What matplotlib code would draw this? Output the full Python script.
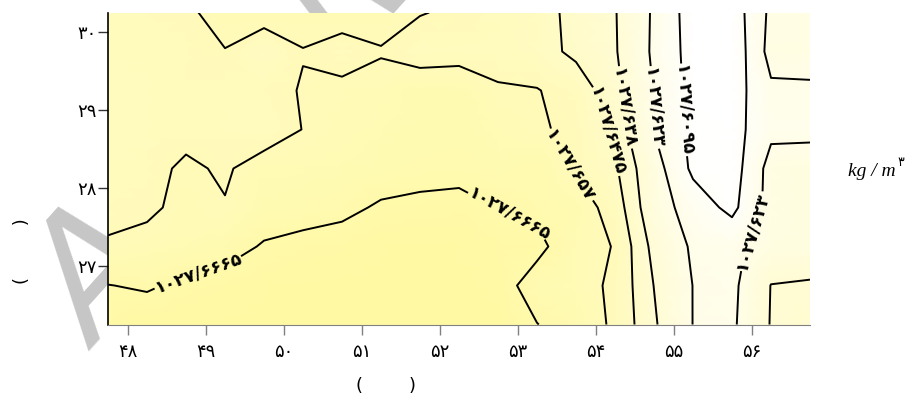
import numpy as np
import matplotlib
matplotlib.use('Agg')
import matplotlib.pyplot as plt
from matplotlib.colors import LinearSegmentedColormap

# grid nodes (degrees)
lon = [47.75, 48.25, 48.75, 49.25, 49.75, 50.25, 50.75, 51.25, 51.75, 52.25,
       52.75, 53.25, 53.75, 54.25, 54.75, 55.25, 55.75, 56.25, 56.75]
lat = [30.25, 29.75, 29.25, 28.75, 28.25, 27.75, 27.25, 26.75, 26.25]

# density above 1027.6 kg/m3 in units of 1e-4, rows north -> south
dens_1e4 = [
    [545, 548, 555, 602, 610, 600, 605, 600, 574, 557, 540, 520, 442, 387, 212, 32, 18, 259, 265],
    [540, 543, 550, 567, 510, 567, 539, 565, 530, 540, 530, 515, 453, 391, 208, 42, -4, 278, 270],
    [535, 540, 545, 545, 545, 575, 587, 594, 625, 621, 581, 574, 535, 413, 225, 47, 29, 207, 215],
    [530, 535, 545, 535, 522, 572, 590, 605, 620, 620, 600, 578, 556, 452, 227, 58, 38, 200, 200],
    [540, 545, 584, 559, 610, 605, 615, 625, 635, 640, 625, 640, 560, 490, 290, 68, 30, 280, 290],
    [545, 555, 592, 575, 620, 630, 645, 675, 685, 690, 663, 645, 620, 530, 301, 167, 60, 280, 290],
    [580, 595, 610, 630, 673, 690, 700, 710, 715, 710, 700, 690, 604, 566, 349, 211, 200, 286, 295],
    [667, 655, 682, 700, 710, 715, 720, 725, 725, 720, 705, 623, 604, 554, 378, 228, 199, 383, 395],
    [700, 715, 720, 725, 730, 730, 730, 735, 735, 730, 720, 667, 623, 555, 395, 228, 208, 387, 400],
]

levels = [1027.6095, 1027.623, 1027.638, 1027.6475, 1027.657, 1027.6665]
xticks = [48, 49, 50, 51, 52, 53, 54, 55, 56]
yticks = [27, 28, 29, 30]

# where the contour labels sit (lon, lat)
label_pos = [(48.86, 27.09), (52.88, 27.63), (53.68, 28.29), (54.13, 28.72),
             (54.36, 29.03), (54.78, 29.03), (55.10, 29.00), (55.98, 27.46)]

FA = str.maketrans('0123456789.', '۰۱۲۳۴۵۶۷۸۹/')


def fa_num(v):
    s = ('%.4f' % v).rstrip('0').rstrip('.')
    return s.translate(FA)


X, Y = np.meshgrid(lon, lat)
rho = 1027.6 + np.array(dens_1e4, dtype=float) * 1e-4

fig = plt.figure(figsize=(9.12, 3.98), dpi=100)

# watermark behind the axes
fig.text(98 / 912, 1 - 352 / 398, 'Archive of SID', rotation=48, rotation_mode='anchor',
         ha='left', va='baseline', fontsize=118, style='italic', color='#c6c6c6',
         zorder=-1)

ax = fig.add_axes([108 / 912, 1 - 324.5 / 398, 702 / 912, 312 / 398])

cmap = LinearSegmentedColormap.from_list('yl', ['#ffffff', '#fffcd4', '#fff9a4'])
ax.pcolormesh(X, Y, rho, shading='gouraud', cmap=cmap, vmin=1027.605, vmax=1027.672)
cs = ax.contour(X, Y, rho, levels=levels, colors='black', linewidths=1.4)
lbls = ax.clabel(cs, levels, fmt={lv: fa_num(lv) for lv in levels}, manual=label_pos,
                 inline=True, inline_spacing=6, fontsize=12.5)
for t in lbls:
    t.set_fontweight('bold')
    t.set_family('DejaVu Sans')

ax.set_xlim(47.75, 56.75)
ax.set_ylim(26.25, 30.25)
ax.set_xticks(xticks)
ax.set_xticklabels([str(v).translate(FA) for v in xticks])
ax.set_yticks(yticks)
ax.set_yticklabels([str(v).translate(FA) for v in yticks])
ax.tick_params(axis='x', length=7, width=1, color='#808080', pad=6, labelsize=13)
ax.tick_params(axis='y', length=7, width=1, color='#333333', pad=1, labelsize=13)
for s in ['top', 'right']:
    ax.spines[s].set_visible(False)
ax.spines['left'].set_color('black')
ax.spines['left'].set_linewidth(1.2)
ax.spines['bottom'].set_color('#808080')

fig.text(386 / 912, 1 - 386 / 398, '(        )', ha='center', va='center', fontsize=13)
fig.text(22 / 912, 1 - 251 / 398, '(         )', ha='center', va='center', fontsize=13,
         rotation=90)
fig.text(848 / 912, 1 - 172 / 398, 'kg / m', ha='left', va='center', fontsize=14,
         family='Liberation Serif', style='italic')
fig.text(897 / 912, 1 - 162 / 398, '۳', ha='left', va='center', fontsize=9,
         family='DejaVu Sans')

fig.savefig('out.png', dpi=100)
